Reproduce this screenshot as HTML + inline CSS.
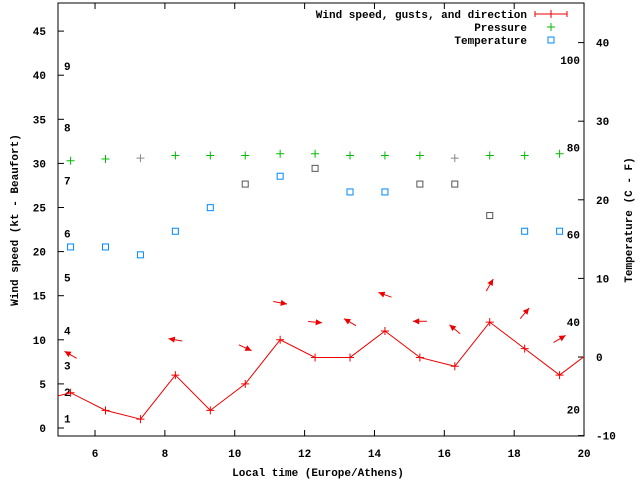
<!DOCTYPE html>
<html><head><meta charset="utf-8"><style>
html,body{margin:0;padding:0;background:#fff}
svg text{font-family:"Liberation Mono",monospace;font-size:11px;font-weight:bold;fill:#000}
</style></head><body>
<svg id="chart" width="640" height="480" xmlns="http://www.w3.org/2000/svg">
<defs><clipPath id="pc"><rect x="58" y="3" width="526" height="433"/></clipPath></defs>
<rect x="58" y="3" width="526" height="433" fill="none" stroke="#000"/>
<g id="axes"></g>
<g id="marks" clip-path="url(#pc)"></g>
<g id="legend">
<text x="527" y="18" text-anchor="end">Wind speed, gusts, and direction</text>
<line x1="535" y1="14" x2="567" y2="14" stroke="#e00"/><line x1="535" y1="11" x2="535" y2="17" stroke="#e00"/><line x1="567" y1="11" x2="567" y2="17" stroke="#e00"/><line x1="551" y1="10" x2="551" y2="18" stroke="#e00"/>
<text x="527" y="31" text-anchor="end">Pressure</text>
<path d="M547,27h8M551,23v8" stroke="#0b0"/>
<text x="527" y="44" text-anchor="end">Temperature</text>
<rect x="548" y="37" width="6" height="6" fill="none" stroke="#08f"/>
</g>
<text x="318" y="476" text-anchor="middle">Local time (Europe/Athens)</text>
<text transform="translate(18,220) rotate(-90)" text-anchor="middle">Wind speed (kt - Beaufort)</text>
<text transform="translate(632,220) rotate(-90)" text-anchor="middle">Temperature (C - F)</text>
</svg>
<script>
const hours=[4.3,5.3,6.3,7.3,8.3,9.3,10.3,11.3,12.3,13.3,14.3,15.3,16.3,17.3,18.3,19.3,20.3];
const wind=[3,4,2,1,6,2,5,10,8,8,11,8,7,12,9,6,9];
const ptHours=[5.3,6.3,7.3,8.3,9.3,10.3,11.3,12.3,13.3,14.3,15.3,16.3,17.3,18.3,19.3];
const pressure=[30.3,30.5,30.6,30.9,30.9,30.9,31.1,31.1,30.9,30.9,30.9,30.6,30.9,30.9,31.1];
const pressGray=[0,0,1,0,0,0,0,0,0,0,0,1,0,0,0];
const temp=[14,14,13,16,19,22,23,24,21,21,22,22,18,16,16];
const tempGray=[0,0,0,0,0,1,0,1,0,0,1,1,1,0,0];
const arrHours=[5.3,8.3,10.3,11.3,12.3,13.3,14.3,15.3,16.3,17.3,18.3,19.3];
const gusts=[8.3,10,9.1,14.2,12,12,15.1,12.1,11.2,16.2,13,10.1];
const dirAngle=[150,170,-25,-10,-5,150,160,180,140,60,50,30];
const xTicks=[6,8,10,12,14,16,18,20];
const yTicks=[0,5,10,15,20,25,30,35,40,45];
const y2Ticks=[-10,0,10,20,30,40];
const beaufort=[[1,1],[2,4],[3,7],[4,11],[5,17],[6,22],[7,28],[8,34],[9,41]];
const fahr=[20,40,60,80,100];
const X=h=>58+(h-4.94)*34.93, Y=v=>428-v*8.82, Y2=t=>357-t*7.86;
const NS="http://www.w3.org/2000/svg";
function mk(p,tag,a){const e=document.createElementNS(NS,tag);for(const k in a)e.setAttribute(k,a[k]);p.appendChild(e);return e;}
const ax=document.getElementById('axes'),mg=document.getElementById('marks');
xTicks.forEach(t=>{const x=X(t);mk(ax,'path',{d:`M${x},436v-6M${x},3v6`,stroke:'#000'});
 const e=mk(ax,'text',{x:x,y:457,'text-anchor':'middle'});e.textContent=t;
 
 });
yTicks.forEach(t=>{const y=Y(t);mk(ax,'path',{d:`M58,${y}h6`,stroke:'#000'});
 const e=mk(ax,'text',{x:46,y:y+4,'text-anchor':'end'});e.textContent=t;
 
 });
y2Ticks.forEach(t=>{const y=Y2(t);mk(ax,'path',{d:`M584,${y}h-6`,stroke:'#000'});
 const e=mk(ax,'text',{x:596,y:y+4});e.textContent=t;
 
 });
beaufort.forEach(([b,kt])=>{const e=mk(ax,'text',{x:64,y:Y(kt-0.5)-1});e.textContent=b;
 
 });
fahr.forEach(f=>{const e=mk(ax,'text',{x:580,y:Y2((f-32)/1.8)+4,'text-anchor':'end'});e.textContent=f;
 
 });
const ln=mk(mg,'polyline',{points:hours.map((h,i)=>X(h)+','+Y(wind[i])).join(' '),fill:'none',stroke:'#e00'});


hours.forEach((h,i)=>{const x=X(h),y=Y(wind[i]);const p=mk(mg,'path',{d:`M${x-4},${y}h8M${x},${y-4}v8`,stroke:'#e00'});
 
 });
ptHours.forEach((h,i)=>{const x=X(h),y=Y(pressure[i]);const p=mk(mg,'path',{d:`M${x-4},${y}h8M${x},${y-4}v8`,stroke:pressGray[i]?'#888':'#0b0'});
 
 });
ptHours.forEach((h,i)=>{const x=X(h),y=Y2(temp[i]);const r=mk(mg,'rect',{x:x-3,y:y-3,width:6,height:6,fill:'none',stroke:tempGray[i]?'#555':'#08f'});
 
 });
arrHours.forEach((h,i)=>{const cx=X(h),cy=Y(gusts[i]),a=dirAngle[i]*Math.PI/180;
 const dx=Math.cos(a)*7,dy=-Math.sin(a)*7;const hx=cx+dx,hy=cy+dy;
 const g=mk(mg,'g',{});
 
 
 mk(g,'line',{x1:cx-dx,y1:cy-dy,x2:hx,y2:hy,stroke:'#e00'});
 const b1=a+Math.PI-0.45,b2=a+Math.PI+0.45;
 mk(g,'polygon',{points:`${hx},${hy} ${hx+Math.cos(b1)*7},${hy-Math.sin(b1)*7} ${hx+Math.cos(b2)*7},${hy-Math.sin(b2)*7}`,fill:'#e00'});});
</script>
</body></html>
